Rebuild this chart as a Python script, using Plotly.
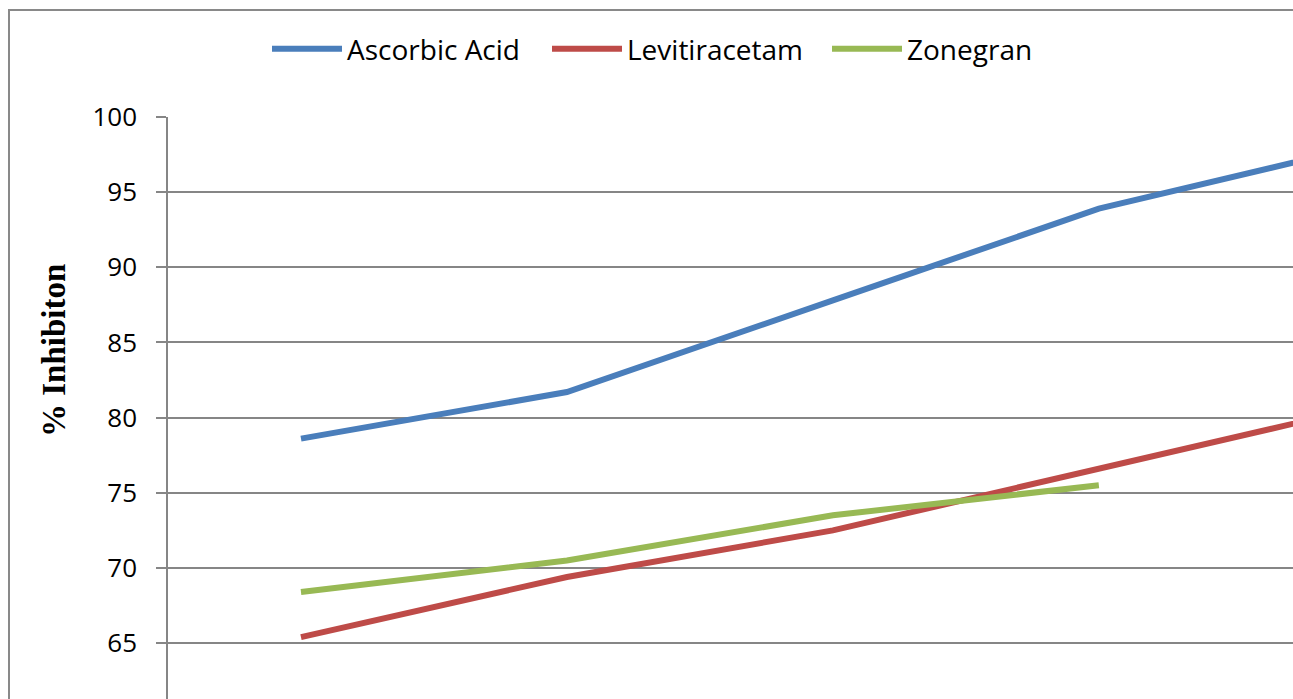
import plotly.graph_objects as go

concentrations = ["20", "40", "60", "80", "100"]
ascorbic_acid = [78.6, 81.7, 87.8, 93.9, 98.1]
levitiracetam = [65.4, 69.4, 72.5, 76.6, 80.7]
zonegran = [68.4, 70.5, 73.5, 75.5]

y_ticks = [65, 70, 75, 80, 85, 90, 95, 100]

L, T = 168, 117
PW, PH = 1293 - L, 699 - T

fig = go.Figure()
fig.add_trace(go.Scatter(x=concentrations, y=ascorbic_acid, mode="lines", name="Ascorbic Acid",
                         line=dict(color="#4A7EBB", width=6)))
fig.add_trace(go.Scatter(x=concentrations, y=levitiracetam, mode="lines", name="Levitiracetam",
                         line=dict(color="#BE4B48", width=6)))
fig.add_trace(go.Scatter(x=concentrations[:len(zonegran)], y=zonegran, mode="lines", name="Zonegran",
                         line=dict(color="#98B954", width=6)))

fig.update_layout(
    width=1293, height=699,
    margin=dict(l=L, r=0, t=T, b=0, autoexpand=False),
    paper_bgcolor="white", plot_bgcolor="white",
    font=dict(family="Open Sans", color="black"),
    showlegend=True,
    legend=dict(orientation="h", x=(267 - L) / PW, xanchor="left", y=1 + (T - 49) / PH, yanchor="middle",
                font=dict(size=28, family="Open Sans"), entrywidth=195, entrywidthmode="pixels",
                itemwidth=70,
                bgcolor="rgba(0,0,0,0)", tracegroupgap=0),
    xaxis=dict(type="category", range=[-0.5, 3.73], showgrid=False, showline=False,
               showticklabels=False, ticks="", zeroline=False),
    yaxis=dict(range=[61.28, 100], tickvals=y_ticks, showgrid=True, gridcolor="#868686",
               gridwidth=1.5, showline=True, linecolor="#868686", linewidth=1.5,
               ticks="outside", ticklen=10, tickcolor="#868686", tickwidth=1.5,
               ticklabelstandoff=14,
               tickfont=dict(size=26, family="Open Sans", color="black"),
               zeroline=False, automargin=False),
    annotations=[dict(text="<b>% Inhibiton</b>", xref="paper", yref="paper",
                      x=(54 - L) / PW, y=1 - (351 - T) / PH, xanchor="center", yanchor="middle",
                      textangle=-90, showarrow=False,
                      font=dict(family="Liberation Serif", size=33, color="black"))],
    shapes=[dict(type="rect", xref="paper", yref="paper",
                 x0=(9 - L) / PW, x1=1.2, y0=-0.2, y1=1 + (T - 10) / PH,
                 line=dict(color="#898989", width=2), fillcolor="rgba(0,0,0,0)", layer="below")],
)

fig.write_html("out.html", config={"displayModeBar": False},
               post_script="document.body.style.margin='0';document.body.style.overflow='hidden';")
